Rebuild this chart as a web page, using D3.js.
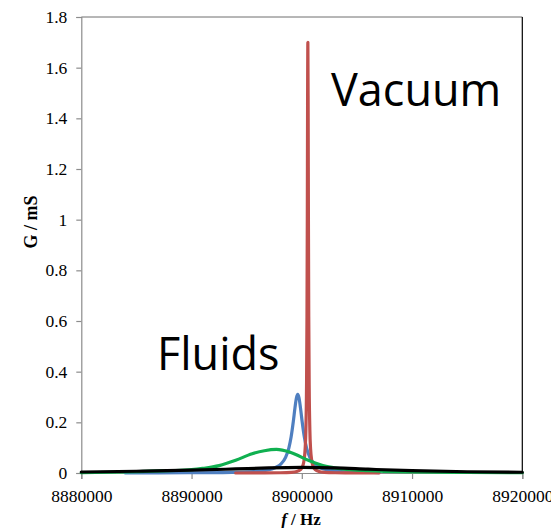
<!DOCTYPE html>
<html>
<head>
<meta charset="utf-8">
<script src="https://cdn.jsdelivr.net/npm/d3@7"></script>
<style>
  html, body { margin: 0; padding: 0; background: #fff; }
  svg { display: block; }
</style>
</head>
<body>
<svg id="chart" width="551" height="528"></svg>
<script>
// Conductance spectra around the resonance (frequency in Hz, G in mS)

const xTicks = [8880000, 8890000, 8900000, 8910000, 8920000];
const yTicks = [0, 0.2, 0.4, 0.6, 0.8, 1, 1.2, 1.4, 1.6, 1.8];

// Vacuum: sharp resonance
const vacuumFreq = [8894000, 8896500, 8898050, 8899050, 8899550, 8899850, 8900050, 8900200,
  8900300, 8900370, 8900430, 8900470, 8900500, 8900525, 8900550, 8900575, 8900600, 8900630,
  8900670, 8900730, 8900800, 8900900, 8901050, 8901250, 8901550, 8902050, 8903050, 8904550, 8907000];
const vacuumG = [0.0001, 0.0004, 0.0010, 0.0027, 0.0061, 0.0125, 0.0243, 0.0489,
  0.093, 0.171, 0.342, 0.616, 1.00, 1.45, 1.70, 1.45, 1.00, 0.616,
  0.342, 0.171, 0.093, 0.0489, 0.0243, 0.0125, 0.0061, 0.0027, 0.0010, 0.0004, 0.0001];

// Fluid 1 (blue)
const fluidAFreq = [8884000, 8889630, 8893630, 8895630, 8896630, 8897630, 8898130, 8898530,
  8898830, 8899030, 8899230, 8899380, 8899510, 8899630, 8899750, 8899880, 8900030, 8900230,
  8900430, 8900730, 8901130, 8901630, 8902630, 8903630, 8905630, 8907000];
const fluidAG = [0.0004, 0.0009, 0.0026, 0.0058, 0.0101, 0.0218, 0.0367, 0.062,
  0.0995, 0.142, 0.203, 0.257, 0.296, 0.310, 0.296, 0.257, 0.203, 0.142,
  0.0995, 0.062, 0.0367, 0.0218, 0.0101, 0.0058, 0.0026, 0.0017];

// Fluid 2 (green)
const fluidBFreq = [8880000, 8884000, 8888000, 8890000, 8891000, 8892500, 8894000, 8895500,
  8896600, 8897700, 8899000, 8900700, 8902200, 8903700, 8906000, 8910000, 8915000, 8920000];
const fluidBG = [0.001, 0.004, 0.009, 0.013, 0.018, 0.029, 0.050, 0.076,
  0.088, 0.093, 0.081, 0.048, 0.026, 0.016, 0.009, 0.004, 0.002, 0.001];

// Fluid 3 (black): broad, low resonance
const fluidCFreq = [8880000, 8885000, 8890000, 8894000, 8897000, 8900000, 8903000, 8906000,
  8910000, 8915000, 8920000];
const fluidCG = [0.004, 0.007, 0.011, 0.016, 0.020, 0.022, 0.020, 0.015, 0.009, 0.005, 0.003];

const svg = d3.select("#chart");
const plotLeft = 81.3, plotRight = 522.3, plotTop = 17, plotBottom = 473;

const x = d3.scaleLinear().domain([8880000, 8920000]).range([plotLeft, plotRight]);
const y = d3.scaleLinear().domain([0, 1.8]).range([plotBottom, plotTop]);

// plot frame
svg.append("line").attr("x1", plotLeft).attr("x2", plotRight).attr("y1", plotTop).attr("y2", plotTop)
  .attr("stroke", "#6e6e6e").attr("stroke-width", 1);
svg.append("line").attr("x1", plotRight).attr("x2", plotRight).attr("y1", plotTop).attr("y2", plotBottom)
  .attr("stroke", "#000").attr("stroke-width", 1.2);

// axes
const yAxis = d3.axisLeft(y).tickValues(yTicks).tickSize(5).tickPadding(9)
  .tickFormat(d => d3.format("")(+d.toFixed(1)));
const gy = svg.append("g").attr("transform", `translate(${plotLeft},0)`).call(yAxis);
const xAxis = d3.axisBottom(x).tickValues(xTicks).tickSize(6).tickPadding(11)
  .tickFormat(d3.format("d"));
const gx = svg.append("g").attr("transform", `translate(0,${plotBottom})`).call(xAxis);

[gx, gy].forEach(g => {
  g.select(".domain").attr("stroke", "#8c8c8c").attr("stroke-width", 1.2);
  g.selectAll(".tick line").attr("stroke", "#8c8c8c").attr("stroke-width", 1.2);
  g.selectAll(".tick text").attr("fill", "#000")
    .style("font-family", "'Liberation Serif', 'Times New Roman', serif")
    .style("font-size", "17.5px");
});

// curves
const line = d3.line().x(d => x(d[0])).y(d => y(d[1])).curve(d3.curveMonotoneX);
const series = [
  { f: fluidAFreq, g: fluidAG, color: "#4f7fc0" },
  { f: vacuumFreq, g: vacuumG, color: "#c0504d" },
  { f: fluidBFreq, g: fluidBG, color: "#10b050" },
  { f: fluidCFreq, g: fluidCG, color: "#000000" }
];
series.forEach(s => {
  svg.append("path")
    .datum(d3.zip(s.f, s.g))
    .attr("d", line)
    .attr("fill", "none")
    .attr("stroke", s.color)
    .attr("stroke-width", 3.2)
    .attr("stroke-linecap", "round")
    .attr("stroke-linejoin", "round");
});

// axis titles
svg.append("text")
  .attr("transform", "translate(37,222) rotate(-90)")
  .attr("text-anchor", "middle")
  .style("font-family", "'Liberation Serif', 'Times New Roman', serif")
  .style("font-size", "18px").style("font-weight", "bold")
  .text("G / mS");

const xt = svg.append("text")
  .attr("x", 301).attr("y", 525)
  .attr("text-anchor", "middle")
  .style("font-family", "'Liberation Serif', 'Times New Roman', serif")
  .style("font-size", "17px").style("font-weight", "bold");
xt.append("tspan").style("font-style", "italic").text("f");
xt.append("tspan").text(" / Hz");

// annotations
svg.append("text").attr("x", 157).attr("y", 370)
  .style("font-family", "'Open Sans', sans-serif").style("font-size", "45px")
  .text("Fluids");
svg.append("text").attr("x", 331).attr("y", 106)
  .style("font-family", "'Open Sans', sans-serif").style("font-size", "45px")
  .text("Vacuum");
</script>
</body>
</html>
